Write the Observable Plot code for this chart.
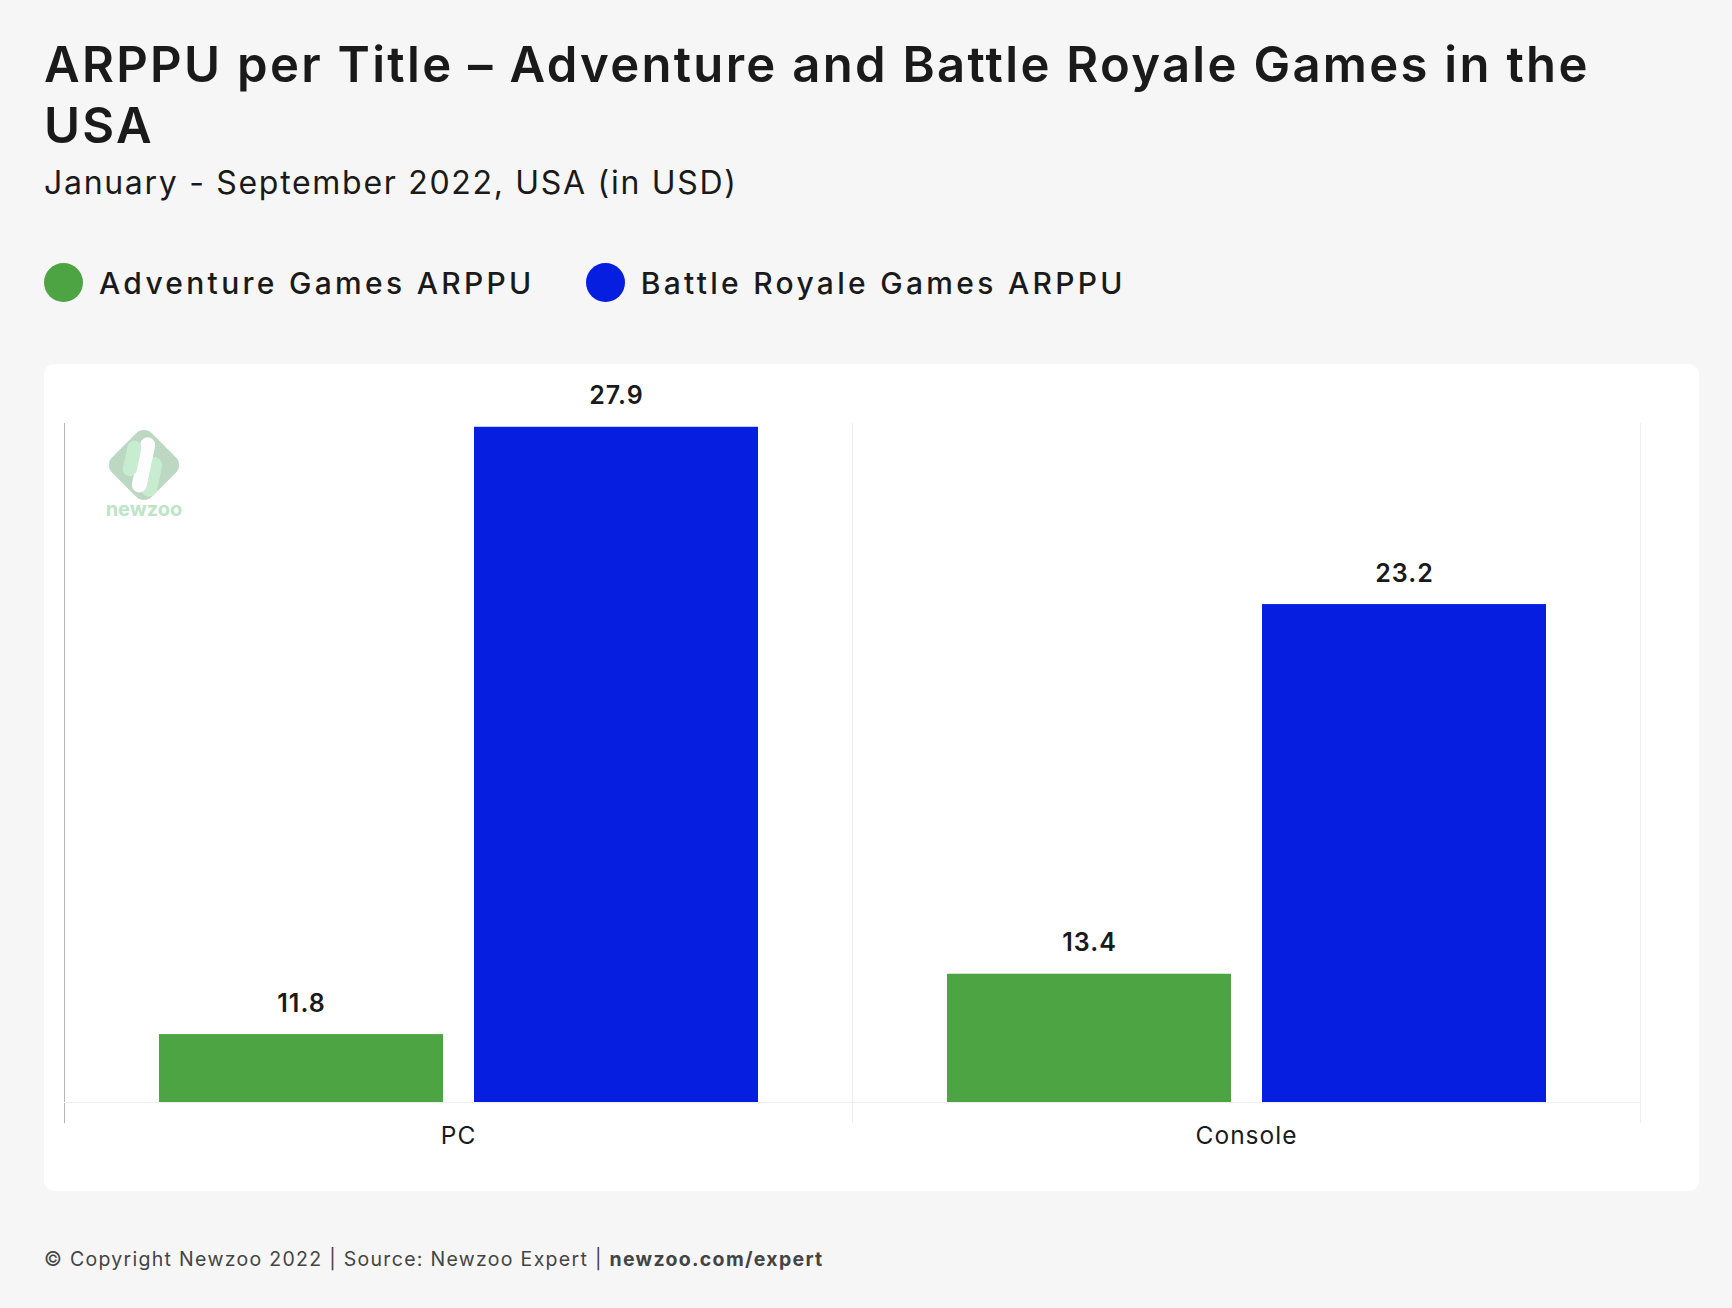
<!DOCTYPE html>
<html>
<head>
<meta charset="utf-8">
<script src="https://cdn.jsdelivr.net/npm/d3@7"></script>
<script src="https://cdn.jsdelivr.net/npm/@observablehq/plot@0.6"></script>
<style>
  html, body { margin: 0; padding: 0; background: #f6f6f6; }
  body { width: 1732px; height: 1308px; position: relative; font-family: Inter, "Noto Sans", sans-serif; color: #1a1a1a; }
  #title { position: absolute; left: 44px; top: 34px; font-size: 49px; line-height: 61px; font-weight: 600; letter-spacing: 2.3px; white-space: nowrap; }
  #subtitle { position: absolute; left: 44px; top: 163px; font-size: 32px; line-height: 40px; font-weight: 400; letter-spacing: 1.7px; white-space: nowrap; }
  #legend { position: absolute; left: 44px; top: 263px; height: 39px; display: flex; align-items: center; }
  .item { display: flex; align-items: center; margin-right: 51px; font-size: 30px; font-weight: 500; letter-spacing: 3.3px; white-space: nowrap; }
  .dot { width: 39px; height: 39px; border-radius: 50%; margin-right: 16px; }
  #card { position: absolute; left: 44px; top: 364px; width: 1655px; height: 827px; background: #fff; border-radius: 10px; overflow: hidden; }
  #card svg { display: block; }
  #logo { position: absolute; left: 60px; top: 63px; }
  #footer { position: absolute; left: 44px; top: 1247px; font-size: 19.5px; line-height: 24px; color: #444; letter-spacing: 1.3px; white-space: nowrap; }
  #footer b { font-weight: 700; }
</style>
</head>
<body>
<div id="title">ARPPU per Title – Adventure and Battle Royale Games in the<br>USA</div>
<div id="subtitle">January - September 2022, USA (in USD)</div>
<div id="legend"></div>
<div id="card"></div>
<div id="footer">© Copyright Newzoo 2022 | Source: Newzoo Expert | <b>newzoo.com/expert</b></div>
<script>
const platforms = ["PC", "Console"];
const seriesNames = ["Adventure Games ARPPU", "Battle Royale Games ARPPU"];
const adventureValues = [11.8, 13.4];
const battleRoyaleValues = [27.9, 23.2];
const seriesColors = ["#4ca443", "#051ee0"];
const yDomain = [10, 28];

const data = [];
platforms.forEach((p, i) => {
  data.push({platform: p, series: seriesNames[0], value: adventureValues[i]});
  data.push({platform: p, series: seriesNames[1], value: battleRoyaleValues[i]});
});

const legend = document.getElementById("legend");
seriesNames.forEach((s, i) => {
  const item = document.createElement("div");
  item.className = "item";
  item.innerHTML = `<span class="dot" style="background:${seriesColors[i]}"></span><span>${s}</span>`;
  legend.appendChild(item);
});

const chart = Plot.plot({
  width: 1655,
  height: 827,
  marginLeft: 20,
  marginRight: 59,
  marginTop: 59,
  marginBottom: 89,
  style: {fontFamily: "Inter, 'Noto Sans', sans-serif", background: "transparent", color: "#1a1a1a", letterSpacing: "1px"},
  fx: {domain: platforms, padding: 0, label: null},
  x: {domain: seriesNames, paddingInner: 0.1, paddingOuter: 0.3, axis: null},
  y: {domain: yDomain, axis: null},
  color: {domain: seriesNames, range: seriesColors},
  marks: [
    Plot.frame({anchor: "right", stroke: "#eeeeee", insetBottom: -20}),
    Plot.frame({anchor: "left", stroke: "#eeeeee", insetBottom: -20}),
    Plot.frame({anchor: "left", stroke: "#b5b5b5", insetBottom: -20, facetAnchor: "left"}),
    Plot.ruleY([yDomain[0]], {stroke: "#eeeeee"}),
    Plot.barY(data, {fx: "platform", x: "series", y: "value", fill: "series", clip: true}),
    Plot.text(data, {fx: "platform", x: "series", y: "value", text: d => d.value.toFixed(1), lineAnchor: "bottom", dy: -23, fontSize: 25, fontWeight: 600, fill: "#1a1a1a"}),
    Plot.axisFx({anchor: "bottom", tickSize: 0, tickPadding: 24, fontSize: 24.5, label: null, fill: "#1a1a1a"})
  ]
});
const card = document.getElementById("card");
card.appendChild(chart);

const logo = document.createElementNS("http://www.w3.org/2000/svg", "svg");
logo.setAttribute("id", "logo");
logo.setAttribute("width", "84");
logo.setAttribute("height", "96");
logo.innerHTML = `
  <g transform="translate(40,38) rotate(45)">
    <rect x="-28" y="-28" width="56" height="56" rx="11" fill="#bcd8c2"/>
  </g>
  <g transform="translate(40,38) rotate(12)">
    <rect x="2" y="-10" width="16" height="40" rx="8" fill="#c7ecd0"/>
    <rect x="-8" y="-28" width="15" height="56" rx="7.5" fill="#ffffff" opacity="0.95"/>
    <rect x="-20" y="-22" width="14" height="36" rx="7" fill="#c7ecd0"/>
  </g>
  <text x="40" y="89" text-anchor="middle" font-family="Inter, sans-serif" font-weight="700" font-size="20" fill="#bde4c5">newzoo</text>`;
card.appendChild(logo);
</script>
</body>
</html>
